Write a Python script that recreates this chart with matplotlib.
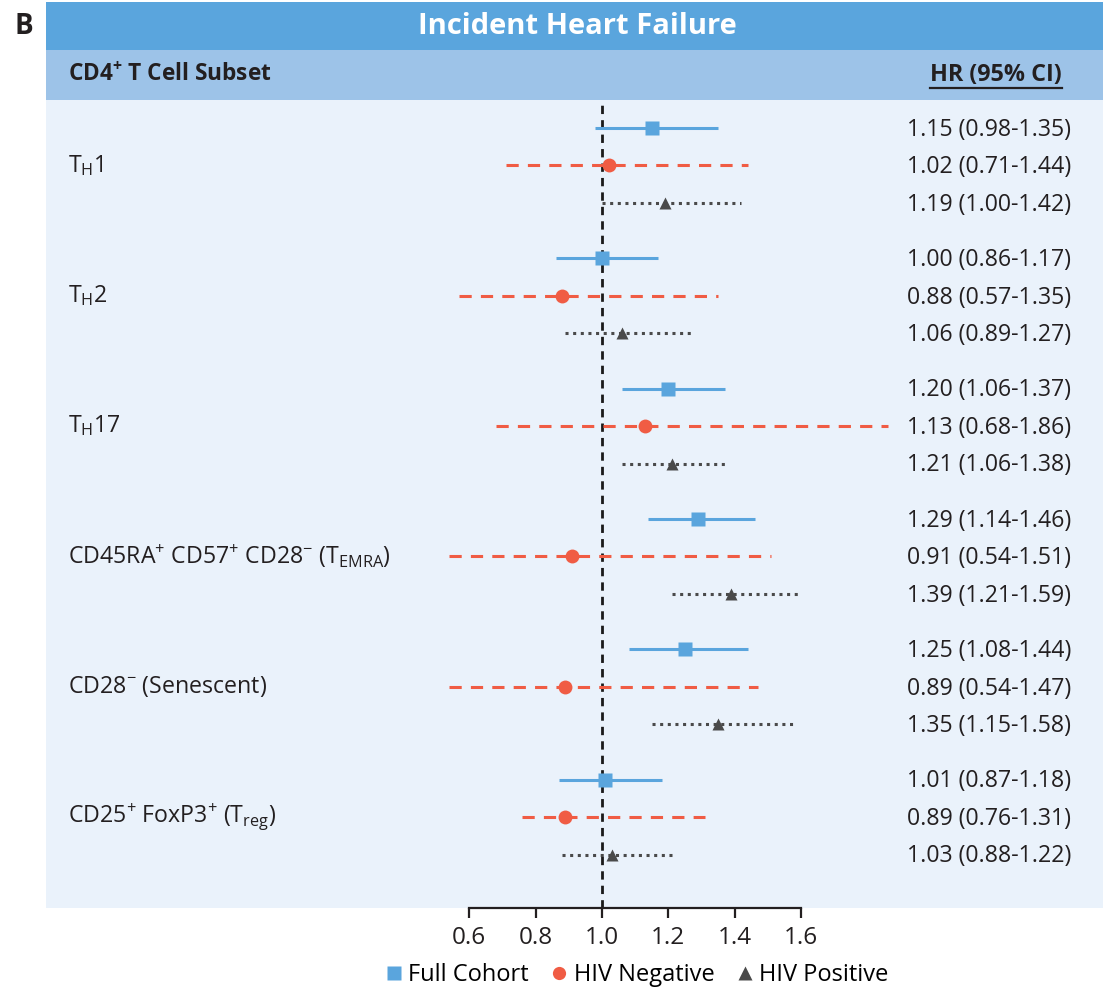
import matplotlib
matplotlib.use("Agg")
import matplotlib.pyplot as plt
from matplotlib.patches import Rectangle
from matplotlib.lines import Line2D

FONT = 'Open Sans'
plt.rcParams['font.family'] = [FONT, 'DejaVu Sans']
plt.rcParams['mathtext.fontset'] = 'custom'
plt.rcParams['mathtext.rm'] = FONT
plt.rcParams['mathtext.it'] = FONT
plt.rcParams['mathtext.bf'] = FONT + ':bold'

# ---- data ----
subsets = [r"T$_{\mathrm{H}}$1", r"T$_{\mathrm{H}}$2", r"T$_{\mathrm{H}}$17",
           r"CD45RA$^{+}$ CD57$^{+}$ CD28$^{-}$ (T$_{\mathrm{EMRA}}$)",
           r"CD28$^{-}$ (Senescent)",
           r"CD25$^{+}$ FoxP3$^{+}$ (T$_{\mathrm{reg}}$)"]
cohorts = ["Full Cohort", "HIV Negative", "HIV Positive"]

full_hr = [1.15, 1.00, 1.20, 1.29, 1.25, 1.01]
full_lo = [0.98, 0.86, 1.06, 1.14, 1.08, 0.87]
full_hi = [1.35, 1.17, 1.37, 1.46, 1.44, 1.18]

neg_hr = [1.02, 0.88, 1.13, 0.91, 0.89, 0.89]
neg_lo = [0.71, 0.57, 0.68, 0.54, 0.54, 0.76]
neg_hi = [1.44, 1.35, 1.86, 1.51, 1.47, 1.31]

pos_hr = [1.19, 1.06, 1.21, 1.39, 1.35, 1.03]
pos_lo = [1.00, 0.89, 1.06, 1.21, 1.15, 0.88]
pos_hi = [1.42, 1.27, 1.38, 1.59, 1.58, 1.22]

xticks = [0.6, 0.8, 1.0, 1.2, 1.4, 1.6]

# ---- layout ----
W, H = 1103, 992
fig = plt.figure(figsize=(W / 100, H / 100), dpi=100)

def fx(px):
    return px / W

def fy(py):
    return 1 - py / H

# background bars
for (top, bot, col) in [(2, 50, "#5aa5dd"), (50, 100, "#9dc3e8"), (100, 908, "#eaf2fb")]:
    fig.patches.append(Rectangle((fx(46), fy(bot)), fx(W - 46), (bot - top) / H,
                                 transform=fig.transFigure, facecolor=col,
                                 edgecolor="none", zorder=-5))

TXT = "#231f20"
FS = 16.7
fig.text(fx(24), fy(26), "B", fontsize=20, fontweight="bold", ha="center", va="center", color=TXT)
fig.text(fx(577), fy(26), "Incident Heart Failure", fontsize=21, fontweight="bold",
         ha="center", va="center", color="white")
fig.text(fx(68), fy(75), r"CD4$^{\mathbf{+}}$ T Cell Subset", fontsize=16.3, fontweight="bold",
         ha="left", va="center", color=TXT)
hdr = fig.text(fx(1062), fy(75), "HR (95% CI)", fontsize=16.8, fontweight="bold",
               ha="right", va="center", color=TXT)

# axes spanning panel
ax = fig.add_axes([fx(46), fy(908), fx(W - 46), 808 / H])
ax.set_facecolor("none")
ax.set_zorder(2)
# x: px = 602 + (v-1)*332
ax.set_xlim(1 + (46 - 602) / 332, 1 + (1103 - 602) / 332)
# y: px = 128 + row*37.5
ax.set_ylim((908 - 128) / 37.5, (100 - 128) / 37.5)

gap = 130.3 / 37.5
colors = ["#5aa5dd", "#f05c44", "#4a4a4a"]
markers = ["s", "o", "^"]
styles = ["-", (0, (4, 3)), (0, (1, 1.5))]
series = [(full_hr, full_lo, full_hi), (neg_hr, neg_lo, neg_hi), (pos_hr, pos_lo, pos_hi)]

ax.axvline(1.0, color="#1a1a1a", lw=2, ls=(0, (3, 2.2)), zorder=1)

for g, name in enumerate(subsets):
    base = g * gap
    for k, (hr, lo, hi) in enumerate(series):
        y = base + k
        ax.plot([lo[g], hi[g]], [y, y], color=colors[k], lw=2.2,
                ls=styles[k], zorder=2, solid_capstyle="butt")
        ax.plot([hr[g]], [y], marker=markers[k], color=colors[k], ms=10 if k < 2 else 9,
                mec="none", zorder=3, ls="none")
        ax.text(1 + (907 - 602) / 332, y + 0.05, f"{hr[g]:.2f} ({lo[g]:.2f}-{hi[g]:.2f})",
                fontsize=FS, ha="left", va="center", color=TXT)
    ax.text(1 + (68 - 602) / 332, base + 1, name, fontsize=FS, ha="left", va="center",
            color=TXT)

for s in ["top", "left", "right"]:
    ax.spines[s].set_visible(False)
ax.spines["bottom"].set_bounds(0.6, 1.6)
ax.spines["bottom"].set_linewidth(1.6)
ax.spines["bottom"].set_color(TXT)
ax.set_xticks(xticks)
ax.set_xticklabels([f"{t:.1f}" for t in xticks], fontsize=17.5, color=TXT)
ax.tick_params(axis="x", length=7, width=1.6, color=TXT, pad=6)
ax.set_yticks([])

handles = [Line2D([], [], marker=markers[k], color=colors[k], ls="none", ms=9.5, mec="none")
           for k in range(3)]
fig.legend(handles, cohorts, loc="center", bbox_to_anchor=(fx(636), fy(975)), ncol=3,
           frameon=False, fontsize=17, handletextpad=0.15, columnspacing=0.85,
           handlelength=0.9, borderpad=0)

# underline for header
fig.canvas.draw()
bb = hdr.get_window_extent()
fig.add_artist(Line2D([bb.x0 / W, bb.x1 / W], [(bb.y0 - 1) / H, (bb.y0 - 1) / H],
                      transform=fig.transFigure, color=TXT, lw=1.6))

fig.savefig("out.png", dpi=100)
